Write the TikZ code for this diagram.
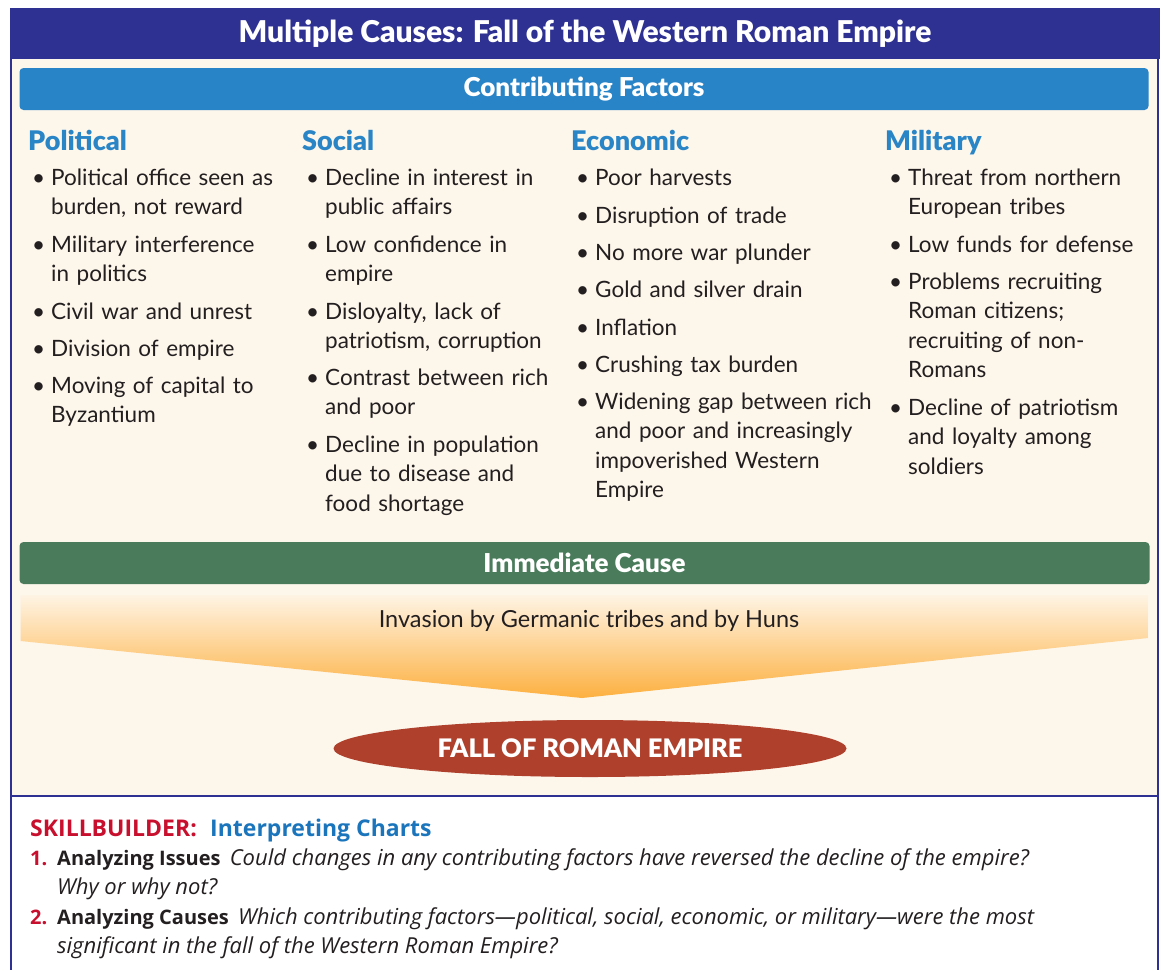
\documentclass[tikz,border=0pt]{standalone}
\usepackage{fontspec}
\setmainfont{Lato}[BoldFont={Lato Black}]
\newfontfamily\skf{Open Sans}
\usetikzlibrary{shapes.geometric}
\definecolor{navy}{HTML}{2E3192}
\definecolor{cream}{HTML}{FDF6EB}
\definecolor{barblue}{HTML}{2884C7}
\definecolor{barGreen}{HTML}{4A7C5C}
\definecolor{fallred}{HTML}{AE402C}
\definecolor{headblue}{HTML}{2A85C7}
\definecolor{skillred}{HTML}{C8102E}
\definecolor{skillblue}{HTML}{1B75BC}
\definecolor{ink}{HTML}{231F20}
\definecolor{orangeTop}{HTML}{FEF4E4}
\definecolor{orangeMid}{HTML}{FDD08C}
\definecolor{orangeBot}{HTML}{FDB040}
\newcommand{\bul}{\llap{•\hspace{6pt}}}
\newcommand{\qit}[1]{{\fontsize{22}{24}\selectfont\itshape #1}}
\begin{document}
\begin{tikzpicture}[x=1pt,y=-1pt,
  bartext/.style={text=white,font=\fontsize{26}{30}\selectfont\bfseries,inner sep=0pt,rounded corners=4pt,minimum width=1129pt,minimum height=42pt},
  colhead/.style={anchor=base west,inner sep=0pt,text=headblue,font=\fontsize{27}{30}\selectfont\bfseries},
  item/.style={anchor=base west,inner sep=0pt,text=ink,align=left,text width=330pt,font=\fontsize{22.5}{29.6}\selectfont},
  skl/.style={anchor=base west,inner sep=0pt,text=ink,font=\skf\fontsize{20}{24}\selectfont}]
\useasboundingbox (0,0) rectangle (1164,970);
\fill[white] (0,0) rectangle (1164,970);
% frame
\fill[navy] (10,8) rectangle (1160,59);
\fill[cream] (11,59) rectangle (1158,796);
\draw[navy,line width=2.5pt] (11,8) -- (11,970);
\draw[navy,line width=2.5pt] (1158,8) -- (1158,970);
\draw[navy,line width=2.5pt] (11,796) -- (1158,796);
\node[text=white,font=\fontsize{30}{34}\selectfont\bfseries,inner sep=0pt] (title) at (585,34) {Multiple Causes: Fall of the Western Roman Empire};
% contributing factors bar
\node[bartext,fill=barblue] (cf) at (584,89) {Contributing Factors};
% column heads
\node[colhead] (hpol) at (28,150) {Political};
\node[colhead] (hsoc) at (302,150) {Social};
\node[colhead] (heco) at (571,150) {Economic};
\node[colhead] (hmil) at (885,150) {Military};
% political
\node[item] (p1) at (51,185) {\bul Political office seen as\\burden, not reward};
\node[item] (p2) at (51,252) {\bul Military interference\\in politics};
\node[item] (p3) at (51,319) {\bul Civil war and unrest};
\node[item] (p4) at (51,356) {\bul Division of empire};
\node[item] (p5) at (51,393) {\bul Moving of capital to\\Byzantium};
% social
\node[item] (s1) at (325,185) {\bul Decline in interest in\\public affairs};
\node[item] (s2) at (325,252) {\bul Low confidence in\\empire};
\node[item] (s3) at (325,319) {\bul Disloyalty, lack of\\patriotism, corruption};
\node[item] (s4) at (325,385) {\bul Contrast between rich\\and poor};
\node[item] (s5) at (325,452) {\bul Decline in population\\due to disease and\\food shortage};
% economic
\node[item] (e1) at (595,185) {\bul Poor harvests};
\node[item] (e2) at (595,223) {\bul Disruption of trade};
\node[item] (e3) at (595,260) {\bul No more war plunder};
\node[item] (e4) at (595,297) {\bul Gold and silver drain};
\node[item] (e5) at (595,335) {\bul Inflation};
\node[item] (e6) at (595,372) {\bul Crushing tax burden};
\node[item] (e7) at (595,409) {\bul Widening gap between rich\\and poor and increasingly\\impoverished Western\\Empire};
% military
\node[item,text width=240pt] (m1) at (908,185) {\bul Threat from northern\\European tribes};
\node[item,text width=240pt] (m2) at (908,252) {\bul Low funds for defense};
\node[item,text width=240pt] (m3) at (908,289) {\bul Problems recruiting\\Roman citizens;\\recruiting of non-\\Romans};
\node[item,text width=240pt] (m4) at (908,415) {\bul Decline of patriotism\\and loyalty among\\soldiers};
% immediate cause
\node[bartext,fill=barGreen,minimum width=1130pt] (ic) at (584.5,563) {Immediate Cause};
\shade[top color=orangeTop,middle color=orangeMid,bottom color=orangeBot]
  (20.5,595) -- (1148,595) -- (1148,638) -- (582,698) -- (20.5,641) -- cycle;
\node[text=ink,font=\fontsize{23.5}{28}\selectfont,inner sep=0pt] (inv) at (589,621) {Invasion by Germanic tribes and by Huns};
\node[ellipse,fill=fallred,minimum width=513pt,minimum height=57pt,inner sep=0pt,text=white,font=\fontsize{25.5}{28}\selectfont\bfseries] (fall) at (590,748.5) {FALL OF ROMAN EMPIRE};
% skillbuilder
\node[skl,font=\skf\fontsize{23}{26}\selectfont\bfseries,text=skillred] (sk) at (30,836.5) {SKILLBUILDER:};
\node[skl,font=\skf\fontsize{23}{26}\selectfont\bfseries,text=skillblue] (skc) at (210,836.5) {Interpreting Charts};
\node[skl,font=\skf\fontsize{20}{24}\selectfont\bfseries,text=skillred] (n1) at (30,865.5) {1.};
\node[skl] (q1) at (57,865.5) {\textbf{Analyzing Issues}\hspace{4pt} \qit{Could changes in any contributing factors have reversed the decline of the empire?}};
\node[skl] (q1b) at (57,894.5) {\qit{Why or why not?}};
\node[skl,font=\skf\fontsize{20}{24}\selectfont\bfseries,text=skillred] (n2) at (30,924.5) {2.};
\node[skl] (q2) at (57,924.5) {\textbf{Analyzing Causes}\hspace{4pt} \qit{Which contributing factors—political, social, economic, or military—were the most}};
\node[skl] (q2b) at (57,953.5) {\qit{significant in the fall of the Western Roman Empire?}};
\end{tikzpicture}
\end{document}
